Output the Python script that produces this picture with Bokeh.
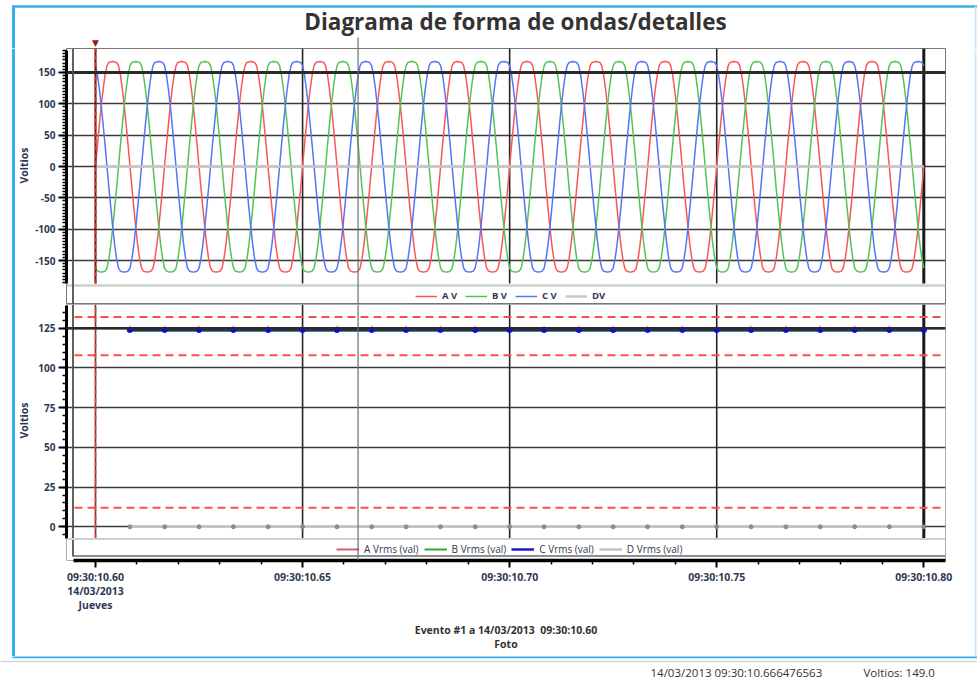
import math
from bokeh.plotting import figure
from bokeh.models import Range1d, FixedTicker, Span, Label, Legend, LegendItem
from bokeh.layouts import column, row
from bokeh.embed import file_html
from bokeh.resources import INLINE

# ---------------- data ----------------
TITLE = "Diagrama de forma de ondas/detalles"
Y_LABEL = "Voltios"
TIME_TICKS_MS = [600, 650, 700, 750, 800]          # ms after 09:30:10
TIME_TICK_LABELS = ["09:30:10.60\n14/03/2013\nJueves", "09:30:10.65",
                    "09:30:10.70", "09:30:10.75", "09:30:10.80"]
TIME_MINOR_MS = [610, 620, 630, 640, 660, 670, 680, 690,
                 710, 720, 730, 740, 760, 770, 780, 790]
EVENT_MS = 600
CURSOR_MS = 663.4
WAVE_Y_TICKS = [-150, -100, -50, 0, 50, 100, 150]
RMS_Y_TICKS = [0, 25, 50, 75, 100, 125]

WAVE_NAMES = ["A V", "B V", "C V", "DV"]
WAVE_FREQ_HZ = 60
WAVE_CYCLES = 12
WAVE_START_MS = 600
CYCLE_A_V = [0, 34, 66, 97, 124, 146, 161, 166, 167, 167.5, 167, 166,
             161, 146, 124, 97, 66, 34, 0, -34, -66, -97, -125, -147,
             -162, -167, -168, -168.5, -168, -167, -162, -147, -125, -97, -66, -34]
PHASE_SHIFT_SAMPLES = [0, -12, 12]   # A, B (-120 deg), C (+120 deg)
DV_LEVEL = 0.0

RMS_NAMES = ["A Vrms (val)", "B Vrms (val)", "C Vrms (val)", "D Vrms (val)"]
RMS_TIMES_MS = [608.3, 616.7, 625.0, 633.3, 641.7, 650.0, 658.3, 666.7,
                675.0, 683.3, 691.7, 700.0, 708.3, 716.7, 725.0, 733.3,
                741.7, 750.0, 758.3, 766.7, 775.0, 783.3, 791.7, 800.0]
RMS_A = [124.3] * 24
RMS_B = [123.3] * 24
RMS_C = [124.0] * 24
RMS_D = [0.0] * 24
RMS_LIMITS = [132.0, 108.0, 12.0]

EVENT_TEXT = "Evento #1 a 14/03/2013\u00a0 09:30:10.60"
EVENT_SUB = "Foto"
STATUS_TIME = "14/03/2013 09:30:10.666476563"
STATUS_VALUE = "Voltios: 149.0"

# ---------------- styles / layout helpers ----------------
RED, GREEN, BLUE, GRAY = "#FA5656", "#55C255", "#5574F8", "#C8C8C8"
TXT = "#2E3A52"
FONT = "Open Sans"
FRAME_BLUE = "#3AAFF0"

def xD(r):   # page pixel -> ms
    return 600 + (r - 95.0) / 4.1415

def yA(r):   # page pixel -> volts (waveform chart)
    return (166.0 - r) / 0.6267

def yB(r):   # page pixel -> volts (rms chart)
    return (526.3 - r) / 1.5888

X0, X1 = xD(66), xD(945)
xr = Range1d(X0, X1)

def bare(width, height, x_range, y_range):
    p = figure(width=width, height=height, x_range=x_range, y_range=y_range,
               output_backend="svg", toolbar_location=None,
               x_axis_location=None, y_axis_location=None,
               min_border=0, min_border_left=0, min_border_right=0,
               min_border_top=0, min_border_bottom=0,
               outline_line_color=None, border_fill_color="white")
    p.grid.visible = False
    return p

def style_yaxis(p, ticks, minor, bounds):
    ax = p.yaxis[0]
    ax.ticker = FixedTicker(ticks=ticks, minor_ticks=minor)
    ax.major_label_overrides = {t: str(t) for t in ticks}
    ax.bounds = bounds
    ax.axis_line_width = 3
    ax.axis_line_color = "black"
    ax.major_tick_out = 8
    ax.major_tick_in = 0
    ax.major_tick_line_width = 2
    ax.minor_tick_out = 4
    ax.minor_tick_in = 0
    ax.minor_tick_line_width = 1.3
    ax.major_label_standoff = 3
    ax.major_label_text_font = FONT
    ax.major_label_text_font_size = "10px"
    ax.major_label_text_font_style = "bold"
    ax.major_label_text_color = TXT
    p.ygrid.ticker = FixedTicker(ticks=ticks)
    p.ygrid.grid_line_color = "#3A3A3A"
    p.ygrid.grid_line_width = 1.6
    p.xgrid.visible = False

# ---------------- title strip (page y 0..48) ----------------
pT = bare(977, 48, Range1d(xD(0), xD(977)), Range1d(48, 0))
pT.add_layout(Label(x=xD(515), y=21, text=TITLE, text_align="center", text_baseline="middle",
                    text_font=FONT, text_font_size="22.5px", text_font_style="bold", text_color="#333333"))
pT.add_layout(Label(x=EVENT_MS, y=42, text="\u25BC", text_align="center", text_baseline="middle",
                    text_font="DejaVu Sans", text_font_size="9px", text_color="#A0141E"))
pT.segment(x0=[xD(12)], y0=[6], x1=[xD(977)], y1=[6], line_color=FRAME_BLUE, line_width=2.5)
pT.segment(x0=[xD(13)], y0=[5], x1=[xD(13)], y1=[48], line_color=FRAME_BLUE, line_width=3)
pT.segment(x0=[xD(975)], y0=[6], x1=[xD(975)], y1=[48], line_color="#CDE9F9", line_width=2)
pT.segment(x0=[CURSOR_MS], y0=[37], x1=[CURSOR_MS], y1=[48], line_color="#6E6E6E", line_width=1.2)

# ---------------- top chart: waveforms (page y 48..304) ----------------
yrA = Range1d(yA(304), yA(48))
pA = figure(width=927, height=256, x_range=xr, y_range=yrA,
            output_backend="svg", toolbar_location=None, x_axis_location=None,
            min_border_left=36, min_border_right=12, min_border_top=0, min_border_bottom=0,
            outline_line_color="#777777", border_fill_color="white")
style_yaxis(pA, WAVE_Y_TICKS, list(range(-185, 190, 5)), (yA(283), yA(50)))
pA.add_layout(Span(location=150, dimension="width", line_color="#2A2A2A", line_width=2.8))
pA.add_layout(Span(location=yA(285), dimension="width", line_color="#CFCFCF", line_width=2.5))
pA.add_layout(Span(location=xD(72.5), dimension="height", line_color="#505050", line_width=1.8))

vl = TIME_TICKS_MS[1:4]
pA.segment(x0=vl, y0=[yA(283)] * 3, x1=vl, y1=[yA(48)] * 3, line_color="#262626", line_width=1.6)
pA.segment(x0=[TIME_TICKS_MS[4]], y0=[yA(283)], x1=[TIME_TICKS_MS[4]], y1=[yA(48)],
           line_color="#1A1A1A", line_width=3)

n = WAVE_CYCLES * len(CYCLE_A_V) + 1
step = 1000.0 / WAVE_FREQ_HZ / len(CYCLE_A_V)
t_wave = [WAVE_START_MS + i * step for i in range(n)]
wave_renderers = []
for shift, col in zip(PHASE_SHIFT_SAMPLES, [RED, GREEN, BLUE]):
    ys = [CYCLE_A_V[(i + shift) % len(CYCLE_A_V)] for i in range(n)]
    wave_renderers.append(pA.line(t_wave, ys, line_color=col, line_width=1.5))
wave_renderers.append(pA.line(t_wave, [DV_LEVEL] * n, line_color=GRAY, line_width=2.5))

pA.segment(x0=[EVENT_MS], y0=[yA(283)], x1=[EVENT_MS], y1=[yA(48)], line_color="#5A1A1A", line_width=2)
pA.segment(x0=[EVENT_MS], y0=[yA(283)], x1=[EVENT_MS], y1=[yA(48)], line_color="#E03030",
           line_width=2, line_dash="4 3")
pA.add_layout(Span(location=CURSOR_MS, dimension="height", line_color="#6E6E6E", line_width=1.2))

legA = Legend(items=[LegendItem(label=nm, renderers=[r]) for nm, r in zip(WAVE_NAMES, wave_renderers)],
              location=(349, 2), orientation="horizontal", glyph_width=22, glyph_height=10,
              label_standoff=5, spacing=3, padding=2, margin=0, border_line_color=None,
              background_fill_alpha=0, label_text_font=FONT, label_text_font_size="9.5px",
              label_text_font_style="bold", label_text_color=TXT)
pA.add_layout(legA)

# ---------------- bottom chart: rms (page y 304..656) ----------------
pB = figure(width=927, height=352, x_range=xr, y_range=Range1d(yB(560), yB(304)),
            output_backend="svg", toolbar_location=None,
            min_border_left=36, min_border_right=12, min_border_top=0, min_border_bottom=96,
            outline_line_color="#B0B0B0", border_fill_color="white")
style_yaxis(pB, RMS_Y_TICKS, list(range(-5, 140, 5)), (yB(538), yB(305)))
pB.add_layout(Span(location=125, dimension="width", line_color="#2A2A2A", line_width=2.4))
pB.add_layout(Span(location=yB(538.5), dimension="width", line_color="#CFCFCF", line_width=2))
pB.segment(x0=[xD(72.5)], y0=[yB(556)], x1=[xD(72.5)], y1=[yB(304)], line_color="#505050", line_width=1.8)
pB.segment(x0=[xD(72.5)], y0=[yB(555.5)], x1=[X1], y1=[yB(555.5)], line_color="#6A6A6A", line_width=1.5)

pB.segment(x0=vl, y0=[yB(538)] * 3, x1=vl, y1=[yB(304)] * 3, line_color="#262626", line_width=1.6)
pB.segment(x0=[TIME_TICKS_MS[4]], y0=[yB(538)], x1=[TIME_TICKS_MS[4]], y1=[yB(304)],
           line_color="#1A1A1A", line_width=3)
for lim in RMS_LIMITS:
    pB.segment(x0=[xD(74)], y0=[lim], x1=[X1], y1=[lim], line_color="#FF4D4D", line_width=2, line_dash="8 5")

rB = pB.line(RMS_TIMES_MS, RMS_B, line_color="#2EA82E", line_width=2)
rC = pB.line(RMS_TIMES_MS, RMS_C, line_color="#1A1AD0", line_width=2.5)
rA = pB.line(RMS_TIMES_MS, RMS_A, line_color="#B01020", line_width=2, line_alpha=0.65)
pB.scatter(RMS_TIMES_MS, RMS_C, size=5.5, color="#0A0AF0")
rD = pB.line(RMS_TIMES_MS, RMS_D, line_color="#C4C4C4", line_width=2.5)
pB.scatter(RMS_TIMES_MS, RMS_D, size=4, color="#8C8C8C")

pB.segment(x0=[EVENT_MS], y0=[yB(538)], x1=[EVENT_MS], y1=[yB(304)], line_color="#444444", line_width=1.6)
pB.segment(x0=[EVENT_MS], y0=[yB(538)], x1=[EVENT_MS], y1=[yB(304)], line_color="#FF3030",
           line_width=1.6, line_dash="6 3")
pB.add_layout(Span(location=CURSOR_MS, dimension="height", line_color="#6E6E6E", line_width=1.2))

legB = Legend(items=[LegendItem(label=nm, renderers=[r]) for nm, r in zip(RMS_NAMES, [rA, rB, rC, rD])],
              location=(270, 4), orientation="horizontal", glyph_width=23, glyph_height=10,
              label_standoff=5, spacing=5, padding=2, margin=0, border_line_color=None,
              background_fill_alpha=0, label_text_font=FONT, label_text_font_size="10px",
              label_text_color=TXT)
pB.add_layout(legB)

ax = pB.xaxis[0]
ax.ticker = FixedTicker(ticks=TIME_TICKS_MS, minor_ticks=TIME_MINOR_MS)
ax.major_label_overrides = dict(zip(TIME_TICKS_MS, TIME_TICK_LABELS))
ax.bounds = (xD(73), X1)
ax.axis_line_width = 3.5
ax.axis_line_color = "black"
ax.major_tick_out = 7
ax.major_tick_in = 0
ax.major_tick_line_width = 2
ax.minor_tick_out = 4
ax.minor_tick_in = 0
ax.minor_tick_line_width = 1.5
ax.major_label_standoff = 2
ax.major_label_text_font = FONT
ax.major_label_text_font_size = "10.5px"
ax.major_label_text_font_style = "bold"
ax.major_label_text_color = TXT
ax.major_label_text_line_height = 1.0
ax.axis_label = EVENT_TEXT + "\n" + EVENT_SUB
ax.axis_label_standoff = 8
ax.axis_label_text_font = FONT
ax.axis_label_text_font_size = "10.5px"
ax.axis_label_text_font_style = "bold"
ax.axis_label_text_color = "#333333"
ax.axis_label_text_line_height = 1.0

# ---------------- side strips (page y 48..656) ----------------
sL = bare(30, 608, Range1d(0, 30), Range1d(656, 48))
sL.segment(x0=[13], y0=[48], x1=[13], y1=[656], line_color=FRAME_BLUE, line_width=3)
for yc in (165, 420):
    sL.add_layout(Label(x=23, y=yc, text=Y_LABEL, angle=math.pi / 2, text_align="center",
                        text_baseline="middle", text_font=FONT, text_font_size="10.5px",
                        text_font_style="bold", text_color="#2A3550"))
sR = bare(20, 608, Range1d(957, 977), Range1d(656, 48))
sR.segment(x0=[975], y0=[48], x1=[975], y1=[656], line_color="#CDE9F9", line_width=2)

# ---------------- status strip (page y 656..681) ----------------
pS = bare(977, 25, Range1d(xD(0), xD(977)), Range1d(681, 656))
pS.segment(x0=[xD(12)], y0=[656.5], x1=[xD(977)], y1=[656.5], line_color=FRAME_BLUE, line_width=2.5)
pS.segment(x0=[xD(0)], y0=[661], x1=[xD(977)], y1=[661], line_color="#D6D6D6", line_width=1.5)
pS.add_layout(Label(x=xD(650), y=672, text=STATUS_TIME, text_align="left", text_baseline="middle",
                    text_font=FONT, text_font_size="11.5px", text_color="#333333"))
pS.add_layout(Label(x=xD(863), y=672, text=STATUS_VALUE, text_align="left", text_baseline="middle",
                    text_font=FONT, text_font_size="11.5px", text_color="#333333"))

layout = column(pT, row(sL, column(pA, pB, spacing=0), sR, spacing=0), pS, spacing=0)
open("out.html", "w").write(file_html(layout, INLINE))
